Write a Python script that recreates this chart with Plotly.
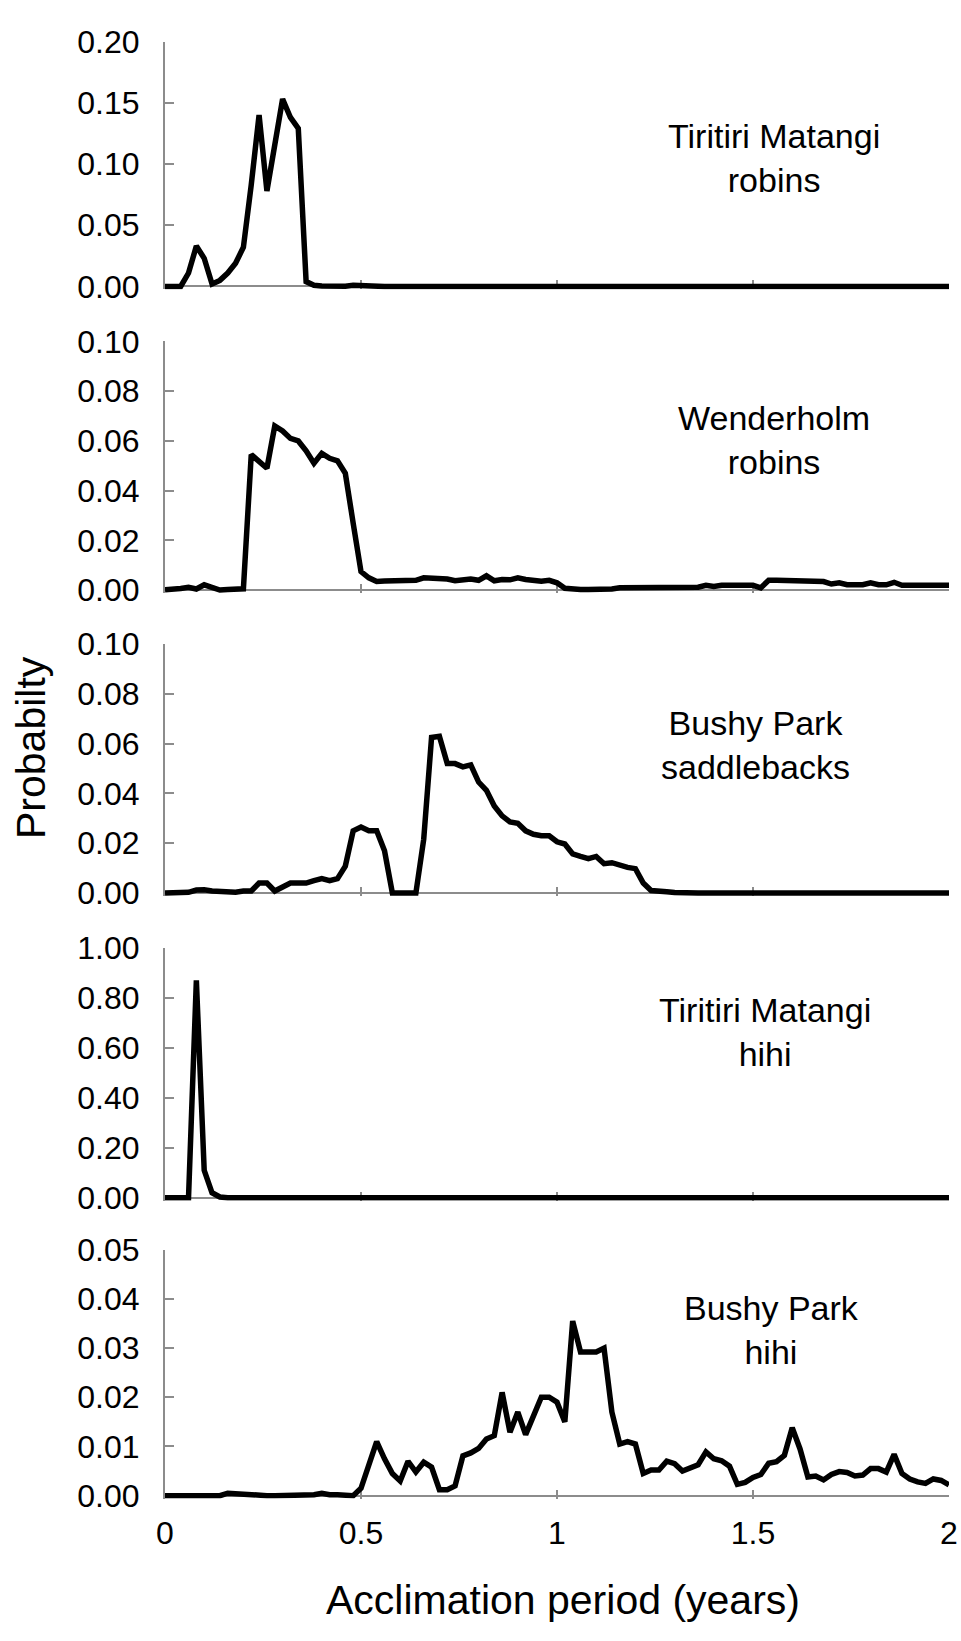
import plotly.graph_objects as go

# ---------------- data ----------------
years = [0.00, 0.02, 0.04, 0.06, 0.08, 0.10, 0.12, 0.14, 0.16, 0.18,
         0.20, 0.22, 0.24, 0.26, 0.28, 0.30, 0.32, 0.34, 0.36, 0.38,
         0.40, 0.42, 0.44, 0.46, 0.48, 0.50, 0.52, 0.54, 0.56, 0.58,
         0.60, 0.62, 0.64, 0.66, 0.68, 0.70, 0.72, 0.74, 0.76, 0.78,
         0.80, 0.82, 0.84, 0.86, 0.88, 0.90, 0.92, 0.94, 0.96, 0.98,
         1.00, 1.02, 1.04, 1.06, 1.08, 1.10, 1.12, 1.14, 1.16, 1.18,
         1.20, 1.22, 1.24, 1.26, 1.28, 1.30, 1.32, 1.34, 1.36, 1.38,
         1.40, 1.42, 1.44, 1.46, 1.48, 1.50, 1.52, 1.54, 1.56, 1.58,
         1.60, 1.62, 1.64, 1.66, 1.68, 1.70, 1.72, 1.74, 1.76, 1.78,
         1.80, 1.82, 1.84, 1.86, 1.88, 1.90, 1.92, 1.94, 1.96, 1.98,
         2.00]

tiritiri_robins = [0, 0, 0, 0.011, 0.033, 0.023, 0.002, 0.005, 0.011, 0.019,
                   0.032, 0.083, 0.140, 0.078, 0.118, 0.153, 0.138, 0.129, 0.004, 0.001,
                   0.0005, 0.0003, 0.0002, 0.0003, 0.001, 0.0005, 0, 0, 0, 0,
                   0, 0, 0, 0, 0, 0, 0, 0, 0, 0,
                   0, 0, 0, 0, 0, 0, 0, 0, 0, 0,
                   0, 0, 0, 0, 0, 0, 0, 0, 0, 0,
                   0, 0, 0, 0, 0, 0, 0, 0, 0, 0,
                   0, 0, 0, 0, 0, 0, 0, 0, 0, 0,
                   0, 0, 0, 0, 0, 0, 0, 0, 0, 0,
                   0, 0, 0, 0, 0, 0, 0, 0, 0, 0,
                   0]

wenderholm_robins = [0.0002, 0.0003, 0.0007, 0.0012, 0.0005, 0.0022, 0.0010, 0.0001, 0.0003, 0.0004,
                     0.0006, 0.0545, 0.0520, 0.0490, 0.0660, 0.0640, 0.0610, 0.0600, 0.0560, 0.0510,
                     0.0550, 0.0530, 0.0520, 0.0470, 0.0270, 0.0075, 0.0050, 0.0035, 0.0037, 0.0037,
                     0.0037, 0.0037, 0.0040, 0.0050, 0.0050, 0.0050, 0.0045, 0.0038, 0.0040, 0.0045,
                     0.0040, 0.0058, 0.0038, 0.0043, 0.0042, 0.0050, 0.0043, 0.0037, 0.0036, 0.0040,
                     0.0030, 0.0008, 0.0003, 0.0003, 0.0003, 0.0003, 0.0004, 0.0005, 0.0010, 0.0010,
                     0.0010, 0.0010, 0.0010, 0.0010, 0.0010, 0.0012, 0.0010, 0.0015, 0.0012, 0.0020,
                     0.0015, 0.0020, 0.0020, 0.0020, 0.0020, 0.0020, 0.0010, 0.0040, 0.0040, 0.0040,
                     0.0040, 0.0040, 0.0040, 0.0035, 0.0035, 0.0025, 0.0030, 0.0022, 0.0022, 0.0022,
                     0.0030, 0.0022, 0.0022, 0.0032, 0.0020, 0.0020, 0.0025, 0.0025, 0.0025, 0.0022,
                     0.0020]

bushy_saddlebacks = [0, 0, 0.0002, 0.0003, 0.0012, 0.0013, 0.0008, 0.0005, 0.0002, 0.0003,
                     0.0008, 0.0008, 0.0040, 0.0040, 0.0008, 0.0022, 0.0040, 0.0040, 0.0040, 0.0050,
                     0.0058, 0.0050, 0.0058, 0.0108, 0.0250, 0.0265, 0.0250, 0.0250, 0.0170, 0,
                     0, 0, 0, 0.0216, 0.0625, 0.0630, 0.0520, 0.0520, 0.0507, 0.0515,
                     0.0446, 0.0413, 0.0350, 0.0310, 0.0286, 0.0280, 0.0250, 0.0236, 0.0230, 0.0230,
                     0.0206, 0.0197, 0.0157, 0.0147, 0.0138, 0.0147, 0.0118, 0.0122, 0.0110, 0.0103,
                     0.0098, 0.0040, 0.0010, 0.0010, 0.0005, 0.0002, 0, 0, 0, 0,
                     0, 0, 0, 0, 0, 0, 0, 0, 0, 0,
                     0, 0, 0, 0, 0, 0, 0.0004, 0, 0, 0,
                     0, 0, 0.0004, 0, 0, 0, 0, 0, 0.0002, 0.0002,
                     0]

tiritiri_hihi = [0, 0, 0, 0, 0.87, 0.11, 0.02, 0.003, 0, 0,
                 0, 0, 0, 0, 0, 0, 0, 0, 0, 0,
                 0, 0, 0, 0, 0, 0, 0, 0, 0, 0,
                 0, 0, 0, 0, 0, 0, 0, 0, 0, 0,
                 0, 0, 0, 0, 0, 0, 0, 0, 0, 0,
                 0, 0, 0, 0, 0, 0, 0, 0, 0, 0,
                 0, 0, 0, 0, 0, 0, 0, 0, 0, 0,
                 0, 0, 0, 0, 0, 0, 0, 0, 0, 0,
                 0, 0, 0, 0, 0, 0, 0, 0, 0, 0,
                 0, 0, 0, 0, 0, 0, 0, 0, 0, 0,
                 0]

bushy_hihi = [0, 0, 0, 0, 0, 0, 0, 0, 0.0005, 0.0004,
              0.0002, 0, 0, 0, 0, 0, 0, 0, 0.0002, 0.0002,
              0.0005, 0.0002, 0.0002, 0.0002, 0, 0.0015, 0.0067, 0.0110, 0.0075, 0.0045,
              0.0030, 0.0070, 0.0048, 0.0068, 0.0058, 0.0012, 0.0012, 0.0020, 0.0081, 0.0087,
              0.0096, 0.0115, 0.0122, 0.0210, 0.0129, 0.0170, 0.0124, 0.0160, 0.0200, 0.0200,
              0.0190, 0.0150, 0.0355, 0.0292, 0.0292, 0.0292, 0.0300, 0.0170, 0.0105, 0.0110,
              0.0105, 0.0045, 0.0052, 0.0052, 0.0070, 0.0065, 0.0050, 0.0057, 0.0063, 0.0089,
              0.0075, 0.0071, 0.0060, 0.0023, 0.0027, 0.0037, 0.0043, 0.0066, 0.0069, 0.0082,
              0.0138, 0.0095, 0.0038, 0.0040, 0.0032, 0.0043, 0.0049, 0.0047, 0.0040, 0.0042,
              0.0055, 0.0055, 0.0048, 0.0084, 0.0045, 0.0034, 0.0028, 0.0025, 0.0034, 0.0031,
              0.0022]

series = [tiritiri_robins, wenderholm_robins, bushy_saddlebacks, tiritiri_hihi, bushy_hihi]
labels = ["Tiritiri Matangi<br>robins", "Wenderholm<br>robins", "Bushy Park<br>saddlebacks",
          "Tiritiri Matangi<br>hihi", "Bushy Park<br>hihi"]
y_max = [0.20, 0.10, 0.10, 1.00, 0.05]
y_step = [0.05, 0.02, 0.02, 0.20, 0.01]
x_ticks = [0, 0.5, 1, 1.5, 2]
x_ticktext = ["0", "0.5", "1", "1.5", "2"]

# ---------------- layout (pixel geometry) ----------------
W, H = 961, 1641
L, R = 165, 949
panel_top = [24, 330, 639, 949, 1257]      # pixel row of the top tick
panel_bot = [274, 584, 893, 1204, 1508]     # pixel row of zero
label_pos = [(774, 143), (774, 431), (755, 742), (765, 1035), (771, 1339)]
pad = 3
FONT = "Liberation Sans, Arial, sans-serif"
GRAY = "#8c8c8c"
TICK_SIZE = 32

fig = go.Figure()
layout = dict(
    width=W, height=H,
    margin=dict(l=L, r=W - R, t=0, b=0),
    paper_bgcolor="white", plot_bgcolor="white",
    showlegend=False,
    font=dict(family=FONT, color="black"),
)

annotations = []
for i, vals in enumerate(series):
    n = i + 1
    xa = "x" if n == 1 else f"x{n}"
    ya = "y" if n == 1 else f"y{n}"
    fig.add_trace(go.Scatter(x=years, y=vals, mode="lines",
                             line=dict(color="black", width=5.5),
                             xaxis=xa, yaxis=ya, hoverinfo="skip"))
    T, B = panel_top[i], panel_bot[i]
    dom = [1 - (B + pad) / H, 1 - T / H]
    ymin = -y_max[i] * pad / (B - T)
    nsteps = int(round(y_max[i] / y_step[i]))
    tv = [round(k * y_step[i], 4) for k in range(nsteps + 1)]
    layout["yaxis" if n == 1 else f"yaxis{n}"] = dict(
        domain=dom, range=[ymin, y_max[i]], anchor=xa,
        tickmode="array", tickvals=tv, ticktext=[f"{v:.2f}" for v in tv],
        showline=True, linecolor=GRAY, linewidth=2,
        ticks="inside", ticklen=9, tickwidth=2, tickcolor=GRAY,
        showgrid=False, zeroline=True, zerolinecolor=GRAY, zerolinewidth=2,
        tickfont=dict(size=TICK_SIZE, family=FONT, color="black"),
        ticklabelstandoff=17, layer="below traces",
    )
    bottom = (n == 5)
    layout["xaxis" if n == 1 else f"xaxis{n}"] = dict(
        domain=[0, 1], range=[0, 2.0], anchor=ya,
        tickmode="array", tickvals=[0.5, 1, 1.5] if not bottom else x_ticks,
        ticktext=None if not bottom else x_ticktext,
        showticklabels=bottom,
        showline=False, showgrid=False, zeroline=False,
        ticks="inside", ticklen=9, tickwidth=2, tickcolor=GRAY,
        tickfont=dict(size=TICK_SIZE, family=FONT, color="black"),
        ticklabelstandoff=12, layer="below traces",
    )
    px, py = label_pos[i]
    annotations.append(dict(
        text=labels[i], x=(px - L) / (R - L), y=1 - py / H,
        xref="paper", yref="paper", showarrow=False,
        xanchor="center", yanchor="middle", align="center",
        font=dict(size=34, family=FONT, color="black"),
    ))

annotations.append(dict(text="Probabilty", x=(31 - L) / (R - L), y=1 - 745 / H,
                        xref="paper", yref="paper", showarrow=False, textangle=-90,
                        xanchor="center", yanchor="middle",
                        font=dict(size=41, family=FONT, color="black")))
annotations.append(dict(text="Acclimation period (years)", x=(563 - L) / (R - L), y=1 - 1614 / H,
                        xref="paper", yref="paper", showarrow=False,
                        xanchor="center", yanchor="middle",
                        font=dict(size=41, family=FONT, color="black")))
layout["annotations"] = annotations
fig.update_layout(**layout)
fig.write_html("out.html", config={"displayModeBar": False},
               post_script="document.body.style.margin='0';document.body.style.overflow='hidden';")
